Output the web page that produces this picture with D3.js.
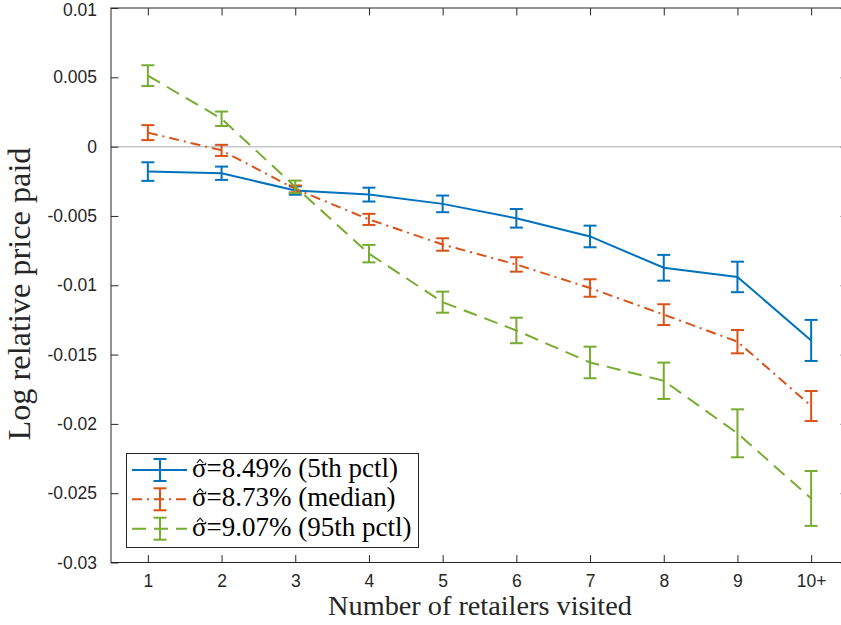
<!DOCTYPE html>
<html>
<head>
<meta charset="utf-8">
<script src="https://cdn.jsdelivr.net/npm/d3@7"></script>
<style>
  html, body { margin: 0; padding: 0; background: #fff; }
  svg { display: block; }
</style>
</head>
<body>
<svg id="chart" width="841" height="625"></svg>
<script>
// ---- data ----
const categories = ["1", "2", "3", "4", "5", "6", "7", "8", "9", "10+"];
const yTicks = [0.01, 0.005, 0, -0.005, -0.01, -0.015, -0.02, -0.025, -0.03];
const yTickLabels = ["0.01", "0.005", "0", "-0.005", "-0.01", "-0.015", "-0.02", "-0.025", "-0.03"];

const seriesSymbol = "\u03C3";
const seriesLabels = ["=8.49% (5th pctl)", "=8.73% (median)", "=9.07% (95th pctl)"];
const p5Mean  = [-0.0018, -0.00192, -0.00317, -0.00346, -0.00413, -0.00517, -0.00648, -0.00874, -0.0094, -0.01398];
const p5Err   = [0.00067, 0.00048, 0.0003, 0.0005, 0.0006, 0.00067, 0.00078, 0.00093, 0.0011, 0.00148];
const medMean = [0.00101, -0.00027, -0.00305, -0.00525, -0.00706, -0.0085, -0.0102, -0.01212, -0.01407, -0.01871];
const medErr  = [0.00054, 0.0004, 0.00025, 0.0004, 0.00045, 0.00052, 0.00063, 0.00075, 0.00084, 0.00108];
const p95Mean = [0.00512, 0.00201, -0.0029, -0.00772, -0.01122, -0.01326, -0.01557, -0.01689, -0.02068, -0.02538];
const p95Err  = [0.00075, 0.00052, 0.00045, 0.00063, 0.00076, 0.00092, 0.00114, 0.00131, 0.00173, 0.00198];

const styles = [
  { color: "#0072BD", dash: null },
  { color: "#D95319", dash: "10,5,2,5" },
  { color: "#77AC30", dash: "14,8" }
];
const series = [
  { name: seriesLabels[0], mean: p5Mean, err: p5Err, ...styles[0] },
  { name: seriesLabels[1], mean: medMean, err: medErr, ...styles[1] },
  { name: seriesLabels[2], mean: p95Mean, err: p95Err, ...styles[2] }
];

// ---- layout ----
const svg = d3.select("#chart");
const L = 111, T = 8, R = 848, B = 562.5;
const axisColor = "#262626";

const x = d3.scaleLinear().domain([0.5, 10.5]).range([L, R]);
const y = d3.scaleLinear().domain([-0.03, 0.01]).range([B, T]);
const xIdx = categories.map((c, i) => i + 1);

// zero line
svg.append("line")
  .attr("x1", L).attr("x2", R)
  .attr("y1", y(0)).attr("y2", y(0))
  .attr("stroke", "#c8c8c8").attr("stroke-width", 1.5);

// axes
const tickLen = 7.4;
const xAxisB = d3.axisBottom(x).tickValues(xIdx).tickFormat((d, i) => categories[i]).tickSizeInner(-tickLen).tickSizeOuter(0).tickPadding(12);
const xAxisT = d3.axisTop(x).tickValues(xIdx).tickFormat("").tickSizeInner(-tickLen).tickSizeOuter(0);
const yAxisL = d3.axisLeft(y).tickValues(yTicks).tickFormat((d, i) => yTickLabels[i]).tickSizeInner(-tickLen).tickSizeOuter(0).tickPadding(14);
const yAxisR = d3.axisRight(y).tickValues(yTicks).tickFormat("").tickSizeInner(-tickLen).tickSizeOuter(0);

function styleAxis(g) {
  g.select(".domain").remove();
  g.selectAll(".tick line").attr("stroke", axisColor).attr("stroke-width", 1);
  g.selectAll(".tick text").attr("fill", axisColor)
    .attr("font-family", "Liberation Sans, Arial, sans-serif").attr("font-size", "17.5px");
}
svg.append("g").attr("transform", `translate(0,${B})`).call(xAxisB).call(styleAxis);
svg.append("g").attr("transform", `translate(0,${T})`).call(xAxisT).call(styleAxis);
svg.append("g").attr("transform", `translate(${L},0)`).call(yAxisL).call(styleAxis)
  .selectAll(".tick text").filter((d) => d === 0.01).attr("dy", "0.4em");
svg.append("g").attr("transform", `translate(${R},0)`).call(yAxisR).call(styleAxis);

// box
svg.append("rect")
  .attr("x", L).attr("y", T).attr("width", R - L).attr("height", B - T)
  .attr("fill", "none").attr("stroke", axisColor).attr("stroke-width", 1);

// series
const capHalf = 6.5;
const line = d3.line().x((d, i) => x(xIdx[i])).y(d => y(d));
series.forEach(s => {
  const g = svg.append("g");
  g.append("path")
    .datum(s.mean)
    .attr("d", line)
    .attr("fill", "none")
    .attr("stroke", s.color)
    .attr("stroke-width", 2)
    .attr("stroke-dasharray", s.dash);
  const eb = g.selectAll(".eb").data(s.mean.map((m, i) => ({ i, m, e: s.err[i] }))).enter().append("g");
  eb.append("line")
    .attr("x1", d => x(xIdx[d.i])).attr("x2", d => x(xIdx[d.i]))
    .attr("y1", d => y(d.m + d.e)).attr("y2", d => y(d.m - d.e))
    .attr("stroke", s.color).attr("stroke-width", 2);
  [1, -1].forEach(sg => {
    eb.append("line")
      .attr("x1", d => x(xIdx[d.i]) - capHalf).attr("x2", d => x(xIdx[d.i]) + capHalf)
      .attr("y1", d => y(d.m + sg * d.e)).attr("y2", d => y(d.m + sg * d.e))
      .attr("stroke", s.color).attr("stroke-width", 2);
  });
});

// labels
const serif = "Liberation Serif, Times New Roman, serif";
function fitText(t, w) {
  const len = t.node().getComputedTextLength();
  const fs = parseFloat(t.attr("font-size"));
  t.attr("font-size", (fs * w / len) + "px");
}
const xl = svg.append("text")
  .attr("x", 480).attr("y", 615)
  .attr("text-anchor", "middle")
  .attr("fill", axisColor)
  .attr("font-family", serif).attr("font-size", "24px")
  .text("Number of retailers visited");
fitText(xl, 304);

const yl = svg.append("text")
  .attr("transform", `translate(30,${294}) rotate(-90)`)
  .attr("text-anchor", "middle")
  .attr("fill", axisColor)
  .attr("font-family", serif).attr("font-size", "24px")
  .text("Log relative price paid");
fitText(yl, 293);

// legend
const lg = svg.append("g");
lg.append("rect")
  .attr("x", 126.5).attr("y", 453.5).attr("width", 292).attr("height", 94)
  .attr("fill", "#fff").attr("stroke", axisColor).attr("stroke-width", 1);
const rowY = [470, 499.3, 528.7];
const probe = lg.append("text").attr("font-family", serif).attr("font-size", "22px")
  .text(seriesSymbol + series[0].name);
fitText(probe, 206);
const legFs = probe.attr("font-size");
probe.remove();

series.forEach((s, k) => {
  const ry = rowY[k];
  lg.append("line").attr("x1", 132).attr("x2", 187).attr("y1", ry).attr("y2", ry)
    .attr("stroke", s.color).attr("stroke-width", 2).attr("stroke-dasharray", s.dash);
  lg.append("line").attr("x1", 160).attr("x2", 160).attr("y1", ry - 11).attr("y2", ry + 11)
    .attr("stroke", s.color).attr("stroke-width", 2);
  [-11, 11].forEach(o => lg.append("line").attr("x1", 160 - capHalf).attr("x2", 160 + capHalf)
    .attr("y1", ry + o).attr("y2", ry + o).attr("stroke", s.color).attr("stroke-width", 2));
  const t = lg.append("text")
    .attr("x", 192).attr("y", ry + 7)
    .attr("fill", "#000")
    .attr("font-family", serif).attr("font-size", legFs);
  t.append("tspan").text(seriesSymbol);
  t.append("tspan").text(s.name);
  const sw = t.node().getSubStringLength(0, 1);
  const cx = 192 + sw / 2 + 0.8;
  // circumflex accent drawn as a small caret above sigma
  lg.append("path")
    .attr("d", `M${cx - 3.2},${ry - 7} L${cx},${ry - 10.5} L${cx + 3.2},${ry - 7}`)
    .attr("fill", "none").attr("stroke", "#000").attr("stroke-width", 1.1)
    .attr("stroke-linejoin", "miter");
});
</script>
</body>
</html>
